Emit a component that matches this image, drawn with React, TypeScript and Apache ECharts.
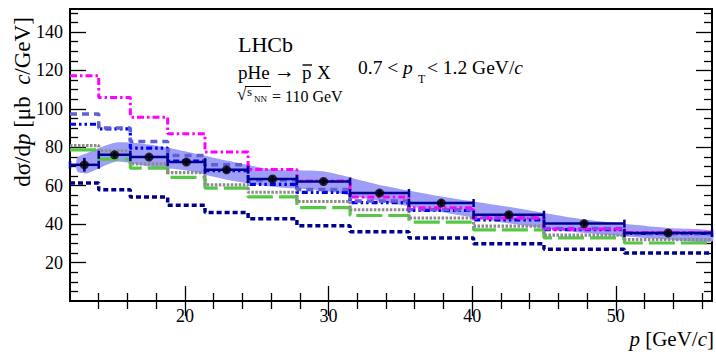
import React, { useEffect, useRef } from "react";
import * as echarts from "echarts";

// ---- data ----
const binEdges = [12, 14, 16.2, 18.8, 21.4, 24.4, 27.8, 31.5, 35.6, 40.1, 45, 50.6, 56.7];
const dataValues = [70.9, 76.1, 74.9, 72.3, 68.3, 63.5, 62.2, 56.2, 51.0, 44.9, 40.3, 35.4];
const dataErrors = [3.6, 1.5, 1.5, 1.5, 1.5, 1.5, 1.5, 1.5, 1.5, 1.5, 1.5, 1.5];
const modelMagenta = [117.3, 105.9, 95.7, 87.0, 77.5, 68.5, 62.5, 54.2, 48.6, 43.2, 37.5, 35.7];
const modelSlate = [97.4, 90.0, 83.0, 75.8, 70.9, 63.0, 58.0, 52.0, 47.5, 43.4, 37.8, 35.0];
const modelBlue = [92.0, 89.6, 79.6, 72.8, 67.8, 60.7, 56.5, 51.2, 47.2, 42.2, 37.2, 35.2];
const modelGray = [80.9, 78.2, 71.4, 66.8, 60.5, 56.6, 51.8, 47.5, 43.2, 39.0, 34.3, 31.9];
const modelGreen = [78.7, 73.9, 69.2, 64.4, 58.8, 54.2, 48.6, 44.5, 41.1, 37.0, 32.9, 30.2];
const modelNavy = [61.4, 57.9, 54.1, 49.8, 46.1, 42.8, 39.2, 36.1, 32.8, 29.8, 27.0, 25.0];
const bandX = [12.5, 13.2, 15.2, 17.5, 20, 23, 26.1, 29.6, 33.5, 37.75, 42.5, 47.7, 53.6, 56.7];
const bandLow = [67.5, 66.5, 72.5, 70, 68, 63, 59.5, 57.5, 52, 46.5, 40.5, 35.5, 32, 31];
const bandHigh = [74.5, 77, 82.5, 81.5, 78, 73, 68.5, 67.5, 60.5, 54.5, 49, 42.5, 38, 36.5];
const xMajorTicks = [20, 30, 40, 50];
const xMinorTicks = [14, 16, 18, 22, 24, 26, 28, 32, 34, 36, 38, 42, 44, 46, 48, 52, 54, 56];
const yMajorTicks = [20, 40, 60, 80, 100, 120, 140];
const yMinorTicks = [5, 10, 15, 25, 30, 35, 45, 50, 55, 65, 70, 75, 85, 90, 95, 105, 110, 115, 125, 130, 135, 145, 150];

const X_MIN = 12;
const X_MAX = 56.7;
const Y_MIN = 0;
const Y_MAX = 152;

const SERIF = "'Liberation Serif', 'DejaVu Serif', serif";

function stepData(vals: number[]) {
  const d = vals.map((v, i) => [binEdges[i], v]);
  d.push([binEdges[binEdges.length - 1], vals[vals.length - 1]]);
  return d;
}

function stepSeries(vals: number[], color: string, width: number, dash: number[], z: number) {
  return {
    type: "line",
    xAxisIndex: 0,
    yAxisIndex: 0,
    step: "end",
    symbol: "none",
    data: stepData(vals),
    lineStyle: { color, width, type: dash, cap: "butt" },
    z,
    silent: true,
  };
}

export default function App() {
  const ref = useRef<HTMLDivElement>(null);
  useEffect(() => {
    if (!ref.current) return;
    const chart = echarts.init(ref.current, undefined, { renderer: "svg" });
    const gridPos = { left: 70, top: 9, right: 4, bottom: 53 };
    const noLine = { show: false };
    const tickStyle = { color: "#000", width: 1.3 };
    const option: any = {
      animation: false,
      backgroundColor: "#fff",
      grid: [
        { ...gridPos, show: true, borderColor: "#000", borderWidth: 2, backgroundColor: "transparent" },
        { ...gridPos, show: false },
      ],
      xAxis: [
        {
          type: "value", gridIndex: 0, position: "bottom", min: X_MIN, max: X_MAX,
          axisLine: noLine, splitLine: { show: false },
          axisTick: { show: true, inside: true, length: 15, customValues: xMajorTicks, lineStyle: tickStyle },
          axisLabel: { customValues: xMajorTicks, color: "#000", fontFamily: SERIF, fontSize: 18, margin: 6 },
        },
        {
          type: "value", gridIndex: 0, position: "top", min: X_MIN, max: X_MAX,
          axisLine: noLine, splitLine: { show: false },
          axisTick: { show: true, inside: true, length: 15, customValues: xMajorTicks, lineStyle: tickStyle },
          axisLabel: { show: false },
        },
        {
          type: "value", gridIndex: 1, position: "bottom", min: X_MIN, max: X_MAX,
          axisLine: noLine, splitLine: { show: false },
          axisTick: { show: true, inside: true, length: 8, customValues: xMinorTicks, lineStyle: tickStyle },
          axisLabel: { show: false },
        },
        {
          type: "value", gridIndex: 1, position: "top", min: X_MIN, max: X_MAX,
          axisLine: noLine, splitLine: { show: false },
          axisTick: { show: true, inside: true, length: 8, customValues: xMinorTicks, lineStyle: tickStyle },
          axisLabel: { show: false },
        },
      ],
      yAxis: [
        {
          type: "value", gridIndex: 0, position: "left", min: Y_MIN, max: Y_MAX,
          axisLine: noLine, splitLine: { show: false },
          axisTick: { show: true, inside: true, length: 16, customValues: yMajorTicks, lineStyle: tickStyle },
          axisLabel: { customValues: yMajorTicks, color: "#000", fontFamily: SERIF, fontSize: 18, margin: 7 },
        },
        {
          type: "value", gridIndex: 0, position: "right", min: Y_MIN, max: Y_MAX,
          axisLine: noLine, splitLine: { show: false },
          axisTick: { show: true, inside: true, length: 16, customValues: yMajorTicks, lineStyle: tickStyle },
          axisLabel: { show: false },
        },
        {
          type: "value", gridIndex: 1, position: "left", min: Y_MIN, max: Y_MAX,
          axisLine: noLine, splitLine: { show: false },
          axisTick: { show: true, inside: true, length: 8, customValues: yMinorTicks, lineStyle: tickStyle },
          axisLabel: { show: false },
        },
        {
          type: "value", gridIndex: 1, position: "right", min: Y_MIN, max: Y_MAX,
          axisLine: noLine, splitLine: { show: false },
          axisTick: { show: true, inside: true, length: 8, customValues: yMinorTicks, lineStyle: tickStyle },
          axisLabel: { show: false },
        },
      ],
      series: [
        {
          // uncertainty band: smooth polygon through upper edge then lower edge (reversed)
          type: "custom", xAxisIndex: 0, yAxisIndex: 0, z: 1, silent: true,
          data: bandX.map((x, i) => [x, bandLow[i], bandHigh[i]]),
          encode: { x: 0, y: [1, 2] },
          renderItem: (params: any, api: any) => {
            if (params.dataIndex !== 0) return null;
            const upper = bandX.map((x, i) => api.coord([x, bandHigh[i]]));
            const lower = bandX.map((x, i) => api.coord([x, bandLow[i]])).reverse();
            return {
              type: "polygon",
              shape: { points: upper.concat(lower), smooth: 0.25 },
              style: { fill: "#9e9ef7", stroke: "none" },
            };
          },
        },
        stepSeries(modelNavy, "#00008c", 3.5, [5, 3], 3),
        stepSeries(modelGreen, "#56c846", 3.2, [26, 6], 3),
        stepSeries(modelGray, "#8c8c8c", 3.2, [2.5, 1.5], 4),
        stepSeries(modelBlue, "#0000f0", 3.2, [6, 3, 2.5, 3, 2.5, 3], 5),
        stepSeries(modelSlate, "#5f5fd8", 3.5, [7, 5], 5),
        stepSeries(modelMagenta, "#ff00ff", 3, [7, 3, 2.5, 3], 6),
        {
          type: "custom", xAxisIndex: 0, yAxisIndex: 0, z: 8, silent: true,
          data: dataValues.map((v, i) => [binEdges[i], binEdges[i + 1], v, dataErrors[i]]),
          encode: { x: [0, 1], y: 2 },
          renderItem: (params: any, api: any) => {
            const lo = api.value(0);
            const hi = api.value(1);
            const v = api.value(2);
            const e = api.value(3);
            const xc = (lo + hi) / 2;
            const a = api.coord([lo, v]);
            const b = api.coord([hi, v]);
            const t = api.coord([xc, v + e]);
            const bt = api.coord([xc, v - e]);
            const st = { stroke: "#000090", lineWidth: 2.5 };
            return {
              type: "group",
              children: [
                { type: "line", shape: { x1: a[0], y1: a[1], x2: b[0], y2: b[1] }, style: st },
                { type: "line", shape: { x1: a[0], y1: a[1] - 4, x2: a[0], y2: a[1] + 4 }, style: st },
                { type: "line", shape: { x1: b[0], y1: b[1] - 4, x2: b[0], y2: b[1] + 4 }, style: st },
                { type: "line", shape: { x1: t[0], y1: t[1], x2: bt[0], y2: bt[1] }, style: st },
              ],
            };
          },
        },
        {
          type: "scatter", xAxisIndex: 0, yAxisIndex: 0, z: 9, silent: true,
          symbol: "circle", symbolSize: 9,
          itemStyle: { color: "#000" },
          data: dataValues.map((v, i) => [(binEdges[i] + binEdges[i + 1]) / 2, v]),
        },
      ],
      graphic: [
        {
          type: "text", x: 22, y: 102, rotation: Math.PI / 2,
          style: {
            text: "{n|dσ/d}{i|p}{n| [μb  }{i|c}{n|/GeV]}",
            align: "center", verticalAlign: "middle", fill: "#000",
            rich: {
              n: { fontFamily: SERIF, fontSize: 23, fill: "#000" },
              i: { fontFamily: SERIF, fontSize: 23, fontStyle: "italic", fill: "#000" },
            },
          },
        },
        {
          type: "text", x: 714, y: 339,
          style: {
            text: "{i|p}{n| [GeV/}{i|c}{n|]}",
            align: "right", verticalAlign: "middle", fill: "#000",
            rich: {
              n: { fontFamily: SERIF, fontSize: 21, fill: "#000" },
              i: { fontFamily: SERIF, fontSize: 21, fontStyle: "italic", fill: "#000" },
            },
          },
        },
        { type: "text", x: 238, y: 44, style: { text: "LHCb", font: `22px ${SERIF}`, fill: "#000", align: "left", verticalAlign: "middle" } },
        { type: "text", x: 238, y: 72, style: { text: "pHe", font: `19px ${SERIF}`, fill: "#000", align: "left", verticalAlign: "middle" } },
        { type: "text", x: 274, y: 71, style: { text: "→", font: `21px ${SERIF}`, fill: "#000", align: "left", verticalAlign: "middle" } },
        { type: "text", x: 302, y: 72, style: { text: "p", font: `19px ${SERIF}`, fill: "#000", align: "left", verticalAlign: "middle" } },
        { type: "line", shape: { x1: 302.5, y1: 65, x2: 312, y2: 65 }, style: { stroke: "#000", lineWidth: 1.4 } },
        { type: "text", x: 317, y: 72, style: { text: "X", font: `19px ${SERIF}`, fill: "#000", align: "left", verticalAlign: "middle" } },
        {
          type: "text", x: 358, y: 67,
          style: {
            text: "{n|0.7 < }{i|p}", align: "left", verticalAlign: "middle", fill: "#000",
            rich: {
              n: { fontFamily: SERIF, fontSize: 19.5, fill: "#000" },
              i: { fontFamily: SERIF, fontSize: 19.5, fontStyle: "italic", fill: "#000" },
            },
          },
        },
        { type: "text", x: 418, y: 79, style: { text: "T", font: `12px ${SERIF}`, fill: "#000", align: "left", verticalAlign: "middle" } },
        {
          type: "text", x: 427, y: 67,
          style: {
            text: "{n|< 1.2 GeV/}{i|c}", align: "left", verticalAlign: "middle", fill: "#000",
            rich: {
              n: { fontFamily: SERIF, fontSize: 19.5, fill: "#000" },
              i: { fontFamily: SERIF, fontSize: 19.5, fontStyle: "italic", fill: "#000" },
            },
          },
        },
        { type: "text", x: 237, y: 94, style: { text: "√", font: `17px ${SERIF}`, fill: "#000", align: "left", verticalAlign: "middle" } },
        { type: "line", shape: { x1: 245, y1: 86.5, x2: 271, y2: 86.5 }, style: { stroke: "#000", lineWidth: 1 } },
        { type: "text", x: 247, y: 91, style: { text: "s", font: `13px ${SERIF}`, fill: "#000", align: "left", verticalAlign: "middle" } },
        { type: "text", x: 254, y: 98.5, style: { text: "NN", font: `9px ${SERIF}`, fill: "#000", align: "left", verticalAlign: "middle" } },
        { type: "text", x: 272, y: 96, style: { text: "= 110 GeV", font: `16px ${SERIF}`, fill: "#000", align: "left", verticalAlign: "middle" } },
      ],
    };
    chart.setOption(option);
    return () => chart.dispose();
  }, []);
  return <div ref={ref} style={{ position: "absolute", left: 0, top: 0, width: 716, height: 354 }} />;
}
